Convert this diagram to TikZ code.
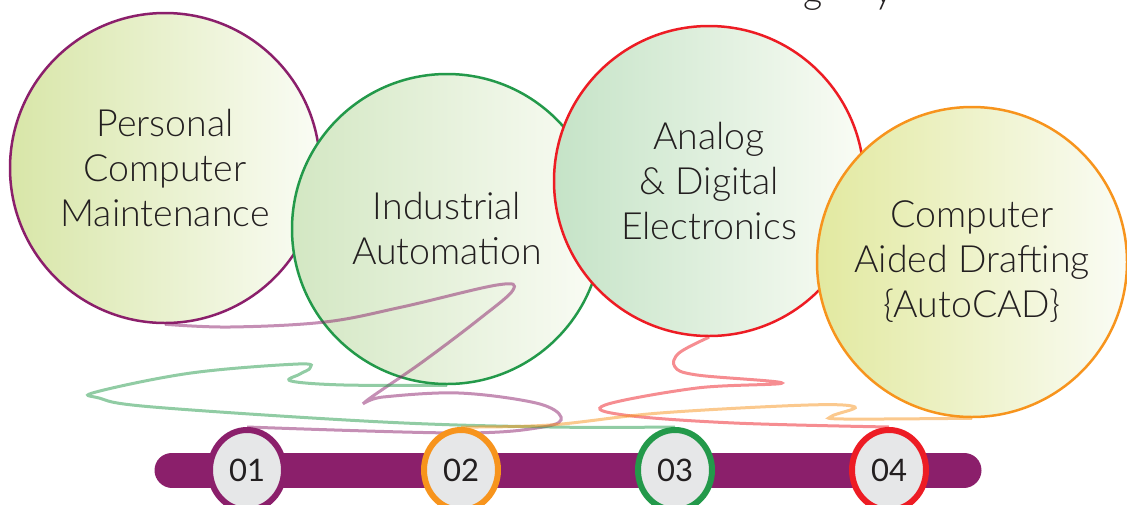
\documentclass[tikz,border=0pt]{standalone}
\usepackage{fontspec}
\IfFontExistsTF{Lato Light}{\setmainfont{Lato Light}}{\setmainfont{Lato}}
\newfontfamily\numfont{Lato}
\usetikzlibrary{shapes.geometric}
\definecolor{cpurple}{HTML}{8B1F6B}
\definecolor{cgreen}{HTML}{23994A}
\definecolor{cred}{HTML}{ED1C24}
\definecolor{corange}{HTML}{F7941D}
\definecolor{ctext}{HTML}{231F20}
\definecolor{cgrey}{HTML}{E6E7E8}
\definecolor{fa}{HTML}{D8E6A8}
\definecolor{fb}{HTML}{D3E7C3}
\definecolor{fc}{HTML}{C5E3C7}
\definecolor{fd}{HTML}{E2E9A0}
\definecolor{fend}{HTML}{FAFCF5}
\pgfdeclarelayer{toplayer}
\pgfsetlayers{main,toplayer}
\begin{document}
\begin{tikzpicture}[x=1pt,y=-1pt,
  bigc/.style={circle, minimum size=310pt, inner sep=0pt, line width=2.5pt,
    right color=fend, text=ctext, align=center,
    font=\fontsize{37.5}{45}\selectfont},
  num/.style={ellipse, minimum width=74pt, minimum height=80pt, inner sep=0pt,
    line width=6pt, fill=cgrey, text=ctext, font=\numfont\fontsize{31}{36}\selectfont},
  wire/.style={line width=3pt, draw opacity=0.5},
  barline/.style={line width=35pt, line cap=round, draw=cpurple},
  toptext/.style={anchor=base, text=ctext, font=\fontsize{37.5}{45}\selectfont, inner sep=0pt}]
\useasboundingbox (0,0) rectangle (1127,504);
\node[toptext] (tg) at (813,3) {g};
\node[toptext] (ty) at (884,3) {y};
\node[bigc, draw=cpurple, left color=fa] (c1) at (165,168) {Personal\\Computer\\Maintenance};
\node[bigc, draw=cgreen, left color=fb] (c2) at (447,229) {Industrial\\Automation};
\node[bigc, draw=cred, left color=fc] (c3) at (709,181) {Analog\\\& Digital\\Electronics};
\node[bigc, draw=corange, left color=fd] (c4) at (972,262) {Computer\\Aided Drafting\\\{AutoCAD\}};
\begin{pgfonlayer}{toplayer}
\draw[barline] (172,470) -- (964,470);
\node[num, draw=cpurple] (n1) at (247,470) {01};
\node[num, draw=corange] (n2) at (461,470) {02};
\node[num, draw=cgreen] (n3) at (675,470) {03};
\node[num, draw=cred] (n4) at (889,470) {04};
\end{pgfonlayer}
\draw[wire, draw=cpurple] plot[smooth, tension=0.6] coordinates {(c1.south) (230,327) (325,322) (402,307) (497,285) (513,290) (478,320) (421,363) (365,402) (383,397) (459,393) (536,403) (561,417) (543,427) (459,433) (n1.north)};
\draw[wire, draw=cgreen] plot[smooth, tension=0.6] coordinates {(c2.south) (344,385) (291,381) (300,374) (310,368) (298,364) (191,373) (96,392) (99,398) (153,407) (383,422) (550,427) (n3.north)};
\draw[wire, draw=cred] plot[smooth, tension=0.6] coordinates {(c3.south) (679,353) (675,367) (697,375) (782,383) (697,388) (605,405) (624,415) (734,423) (n4.north)};
\draw[wire, draw=corange] plot[smooth, tension=0.6] coordinates {(c4.south) (844,419) (832,416) (855,407) (808,405) (660,413) (550,425) (n2.north)};
\end{tikzpicture}
\end{document}
